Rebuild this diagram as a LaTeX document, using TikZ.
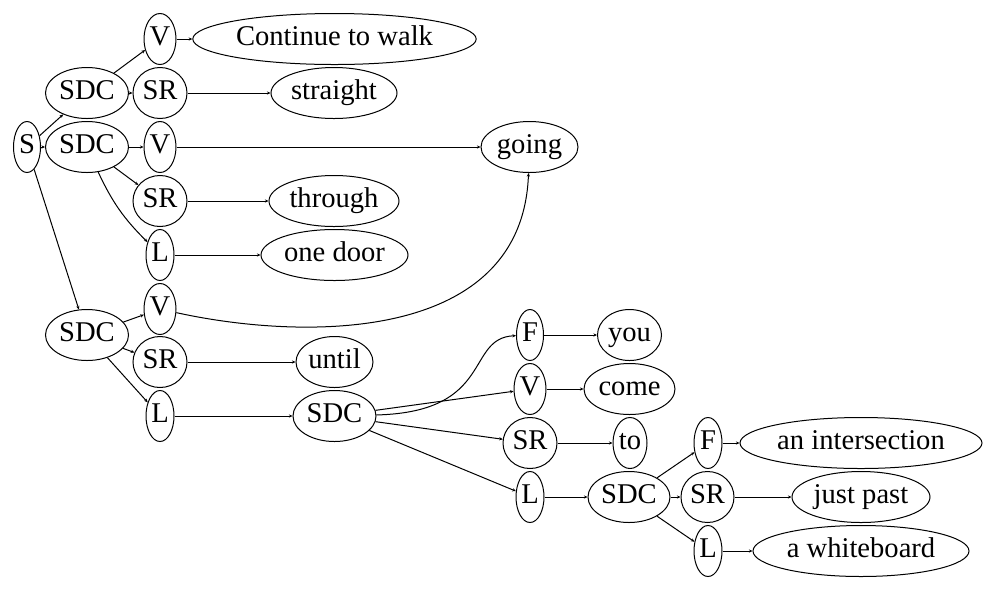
\documentclass[tikz,border=0pt]{standalone}
\usepackage{fontspec}
\setmainfont{Liberation Serif}
\usetikzlibrary{shapes.geometric,arrows.meta}
\begin{document}
\begin{tikzpicture}[x=0.5pt,y=-0.5pt,
  e/.style={ellipse,draw,line width=0.5pt,inner sep=0pt,minimum height=25.5pt,minimum width=#1,
    font=\fontsize{14.3}{17}\selectfont,text height=0.62em,text depth=0pt},
  ed/.style={line width=0.5pt,-{Stealth[length=1.8pt,width=1.6pt]}}]
\useasboundingbox (0,0) rectangle (997,591);
\node[e=13.5pt] (S) at (27,147) {S};
\node[e=41.5pt] (SDCa) at (87,93) {SDC};
\node[e=41.5pt] (SDCb) at (87,147) {SDC};
\node[e=41.5pt] (SDCc) at (87,335) {SDC};
\node[e=16pt] (Va) at (160,39) {V};
\node[e=27pt] (SRa) at (160,93) {SR};
\node[e=16pt] (Vb) at (160,147) {V};
\node[e=27pt] (SRb) at (160,201) {SR};
\node[e=14pt] (La) at (160,255) {L};
\node[e=16pt] (Vc) at (160,309) {V};
\node[e=27pt] (SRc) at (160,362) {SR};
\node[e=14pt] (Lb) at (160,416) {L};
\node[e=141.7pt] (cont) at (334.5,39) {Continue to walk};
\node[e=63pt] (straight) at (334,93) {straight};
\node[e=48.5pt] (going) at (529.5,147) {going};
\node[e=65pt] (through) at (334,201) {through};
\node[e=73.5pt] (door) at (334.5,255) {one door};
\node[e=38.5pt] (until) at (334.5,362) {until};
\node[e=41.5pt] (SDCd) at (334.5,416) {SDC};
\node[e=13.5pt] (Fa) at (530,335) {F};
\node[e=16pt] (Vd) at (530,389) {V};
\node[e=27pt] (SRd) at (530,443) {SR};
\node[e=14pt] (Lc) at (530,497) {L};
\node[e=32pt] (you) at (629.5,335) {you};
\node[e=45.5pt] (come) at (629.5,389) {come};
\node[e=17pt] (to) at (630,443) {to};
\node[e=41pt] (SDCe) at (629,497) {SDC};
\node[e=14pt] (Fb) at (708,443) {F};
\node[e=26.5pt] (SRe) at (707.5,497) {SR};
\node[e=14pt] (Ld) at (708,551) {L};
\node[e=121pt] (inter) at (861,443) {an intersection};
\node[e=69pt] (past) at (861,497) {just past};
\node[e=108pt] (white) at (861,551) {a whiteboard};
\draw[ed] (S) -- (SDCa);
\draw[ed] (S) -- (SDCb);
\draw[ed] (S) -- (SDCc);
\draw[ed] (SDCa) -- (Va);
\draw[ed] (SDCa) -- (SRa);
\draw[ed] (Va) -- (cont);
\draw[ed] (SRa) -- (straight);
\draw[ed] (SDCb) -- (Vb);
\draw[ed] (SDCb) -- (SRb);
\draw[ed] (SDCb) to[bend right=10] (La);
\draw[ed] (Vb) -- (going);
\draw[ed] (SRb) -- (through);
\draw[ed] (La) -- (door);
\draw[ed] (SDCc) -- (Vc);
\draw[ed] (SDCc) -- (SRc);
\draw[ed] (SDCc) -- (Lb);
\draw[ed] (Vc) .. controls (300,340) and (522,345) .. (going);
\draw[ed] (SRc) -- (until);
\draw[ed] (Lb) -- (SDCd);
\draw[ed] (SDCd) .. controls (495,412) and (465,338) .. (Fa);
\draw[ed] (SDCd) -- (Vd);
\draw[ed] (SDCd) -- (SRd);
\draw[ed] (SDCd) -- (Lc);
\draw[ed] (Fa) -- (you);
\draw[ed] (Vd) -- (come);
\draw[ed] (SRd) -- (to);
\draw[ed] (Lc) -- (SDCe);
\draw[ed] (SDCe) -- (Fb);
\draw[ed] (SDCe) -- (SRe);
\draw[ed] (SDCe) -- (Ld);
\draw[ed] (Fb) -- (inter);
\draw[ed] (SRe) -- (past);
\draw[ed] (Ld) -- (white);
\end{tikzpicture}
\end{document}
